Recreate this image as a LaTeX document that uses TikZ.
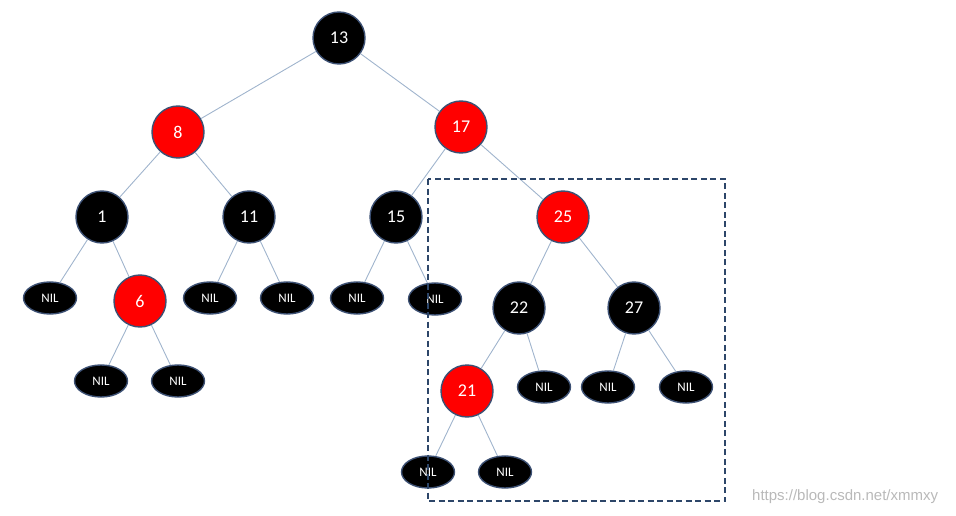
\documentclass[tikz,border=0pt]{standalone}
\usepackage{fontspec}
\setmainfont{Carlito}
\newfontfamily\markfont{Liberation Sans}
\usepackage{tikz}
\usetikzlibrary{shapes.geometric, positioning}
\definecolor{nodeblack}{RGB}{0,0,0}
\definecolor{nodered}{RGB}{255,0,0}
\definecolor{rimblue}{RGB}{60,80,115}
\definecolor{edgeblue}{RGB}{160,180,205}
\definecolor{boxblue}{RGB}{45,70,105}
\definecolor{markgray}{RGB}{185,185,185}
\tikzset{
  bnode/.style={circle, draw=rimblue, fill=nodeblack, text=white,
    minimum size=52pt, inner sep=0pt, line width=1.4pt, font=\fontsize{18}{20}\selectfont},
  rnode/.style={bnode, fill=nodered},
  nilnode/.style={ellipse, draw=rimblue, fill=nodeblack, text=white,
    minimum width=53pt, minimum height=32pt, inner sep=0pt, line width=1.4pt,
    font=\fontsize{13}{15}\selectfont},
  edge/.style={draw=edgeblue, line width=0.9pt},
  subtree/.style={draw=boxblue, line width=1.8pt, dash pattern=on 6pt off 3.5pt}
}

\begin{document}
\begin{tikzpicture}[x=1pt, y=-1pt]
    \useasboundingbox (0,0) rectangle (956,516);

    % Root
    \node[bnode] (n13) at (339, 38) {13};

    % Level 1
    \node[rnode] (n8)  at (178, 132) {8};
    \node[rnode] (n17) at (461, 127) {17};

    % Level 2
    \node[bnode] (n1)  at (102, 217) {1};
    \node[bnode] (n11) at (249, 217) {11};
    \node[bnode] (n15) at (396, 217) {15};
    \node[rnode] (n25) at (563, 217) {25};

    % Level 3
    \node[nilnode] (nil1a) at (50, 298) {NIL};
    \node[rnode]   (n6)    at (140, 301) {6};
    \node[nilnode] (nil11a) at (210, 298) {NIL};
    \node[nilnode] (nil11b) at (287, 298) {NIL};
    \node[nilnode] (nil15a) at (357, 298) {NIL};
    \node[nilnode] (nil15b) at (435, 299) {NIL};
    \node[bnode]   (n22) at (519, 308) {22};
    \node[bnode]   (n27) at (634, 308) {27};

    % Level 4
    \node[nilnode] (nil6a) at (101, 381) {NIL};
    \node[nilnode] (nil6b) at (178, 381) {NIL};
    \node[rnode]   (n21)   at (467, 391) {21};
    \node[nilnode] (nil22b) at (544, 387) {NIL};
    \node[nilnode] (nil27a) at (608, 387) {NIL};
    \node[nilnode] (nil27b) at (686, 387) {NIL};

    % Level 5
    \node[nilnode] (nil21a) at (428, 472) {NIL};
    \node[nilnode] (nil21b) at (505, 472) {NIL};

    % Edges
    \draw[edge] (n13) -- (n8);
    \draw[edge] (n13) -- (n17);
    \draw[edge] (n8) -- (n1);
    \draw[edge] (n8) -- (n11);
    \draw[edge] (n17) -- (n15);
    \draw[edge] (n17) -- (n25);
    \draw[edge] (n1) -- (nil1a);
    \draw[edge] (n1) -- (n6);
    \draw[edge] (n11) -- (nil11a);
    \draw[edge] (n11) -- (nil11b);
    \draw[edge] (n15) -- (nil15a);
    \draw[edge] (n15) -- (nil15b);
    \draw[edge] (n25) -- (n22);
    \draw[edge] (n25) -- (n27);
    \draw[edge] (n6) -- (nil6a);
    \draw[edge] (n6) -- (nil6b);
    \draw[edge] (n22) -- (n21);
    \draw[edge] (n22) -- (nil22b);
    \draw[edge] (n27) -- (nil27a);
    \draw[edge] (n27) -- (nil27b);
    \draw[edge] (n21) -- (nil21a);
    \draw[edge] (n21) -- (nil21b);

    % Subtree box
    \draw[subtree] (428, 179) rectangle (725, 501);

    % Watermark
    \node[text=markgray, font=\fontsize{15}{17}\selectfont\markfont, anchor=west, inner sep=0pt] (mark) at (752, 497) {https://blog.csdn.net/xmmxy};
\end{tikzpicture}
\end{document}
